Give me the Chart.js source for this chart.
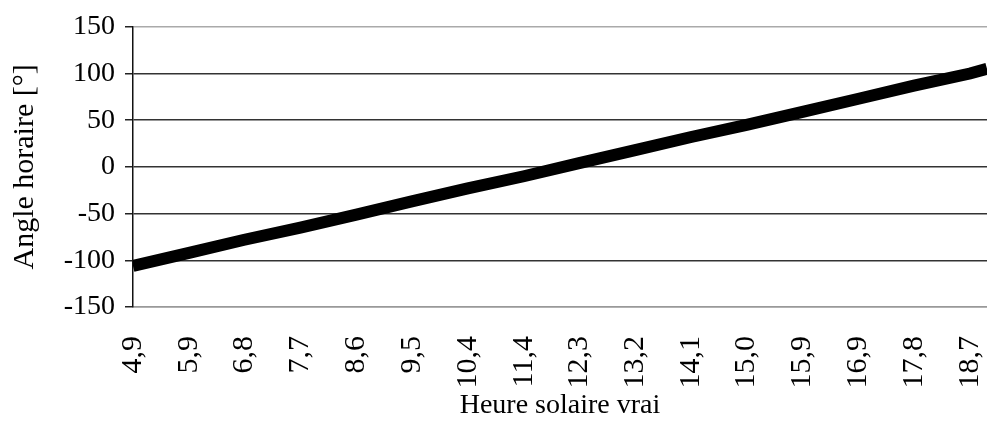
<!DOCTYPE html>
<html>
<head>
<meta charset="utf-8">
<script src="https://cdn.jsdelivr.net/npm/chart.js@4.4.1/dist/chart.umd.min.js"></script>
<style>
  html, body { margin: 0; padding: 0; background: #fff; }
  canvas { display: block; }
</style>
</head>
<body>
<canvas id="angleChart" width="987" height="430"></canvas>
<script>
// Heure solaire vraie (h) and hour angle (deg)
const hours  = [4.94, 5.86, 6.77, 7.69, 8.61, 9.52, 10.44, 11.36, 12.27, 13.19, 14.11, 15.02, 15.94, 16.86, 17.77, 18.69, 18.97];
const angles = [-106, -92, -78, -65, -51, -37, -23, -10, 4, 18, 32, 45, 59, 73, 87, 100, 105];

// x tick positions (hours) and the labels printed under them
const tickHours  = [4.94, 5.86, 6.77, 7.69, 8.61, 9.52, 10.44, 11.36, 12.27, 13.19, 14.11, 15.02, 15.94, 16.86, 17.77, 18.69];
const tickLabels = ['4,9', '5,9', '6,8', '7,7', '8,6', '9,5', '10,4', '11,4', '12,3', '13,2', '14,1', '15,0', '15,9', '16,9', '17,8', '18,7'];

const yTicks = [-150, -100, -50, 0, 50, 100, 150];

Chart.defaults.font.family = '"Liberation Serif", "Times New Roman", serif';
Chart.defaults.color = '#000';

const points = hours.map(function(h, i) { return { x: h, y: angles[i] }; });

new Chart(document.getElementById('angleChart').getContext('2d'), {
    type: 'line',
    data: {
        datasets: [{
            data: points,
            borderColor: '#000',
            borderWidth: 12,
            pointRadius: 0,
            tension: 0
        }]
    },
    options: {
        responsive: false,
        animation: false,
        layout: { padding: { top: 20, right: 0, bottom: 0, left: 0 } },
        plugins: {
            legend: { display: false },
            tooltip: { enabled: false }
        },
        scales: {
            x: {
                type: 'linear',
                min: hours[0],
                max: hours[hours.length - 1],
                afterBuildTicks: function(scale) {
                    scale.ticks = tickHours.map(function(v) { return { value: v }; });
                },
                afterFit: function(scale) {
                    scale.height = 123;
                    scale.paddingRight = 0;
                    scale.paddingLeft = 0;
                },
                grid: { display: false, drawTicks: false },
                border: { display: true, color: '#999', width: 1.5 },
                ticks: {
                    minRotation: 90,
                    maxRotation: 90,
                    autoSkip: false,
                    padding: 29,
                    font: { size: 30 },
                    callback: function(value, index) { return tickLabels[index]; }
                },
                title: {
                    display: true,
                    text: 'Heure solaire vrai',
                    font: { size: 28 },
                    padding: { top: 0, bottom: 8 }
                }
            },
            y: {
                min: -150,
                max: 150,
                afterBuildTicks: function(scale) {
                    scale.ticks = yTicks.map(function(v) { return { value: v }; });
                },
                afterFit: function(scale) { scale.width = 133; },
                grid: {
                    color: function(ctx) {
                        if (ctx.tick && ctx.tick.value === 150) return '#aaa';
                        if (ctx.tick && ctx.tick.value === -150) return '#999';
                        return '#333';
                    },
                    lineWidth: 1.5,
                    tickColor: '#222',
                    tickLength: 8
                },
                border: { display: true, color: '#111', width: 1.5 },
                ticks: {
                    padding: 10,
                    font: { size: 28 }
                },
                title: {
                    display: true,
                    text: 'Angle horaire [°]',
                    font: { size: 30 },
                    padding: { top: 7, bottom: 0 }
                }
            }
        }
    }
});
</script>
</body>
</html>
